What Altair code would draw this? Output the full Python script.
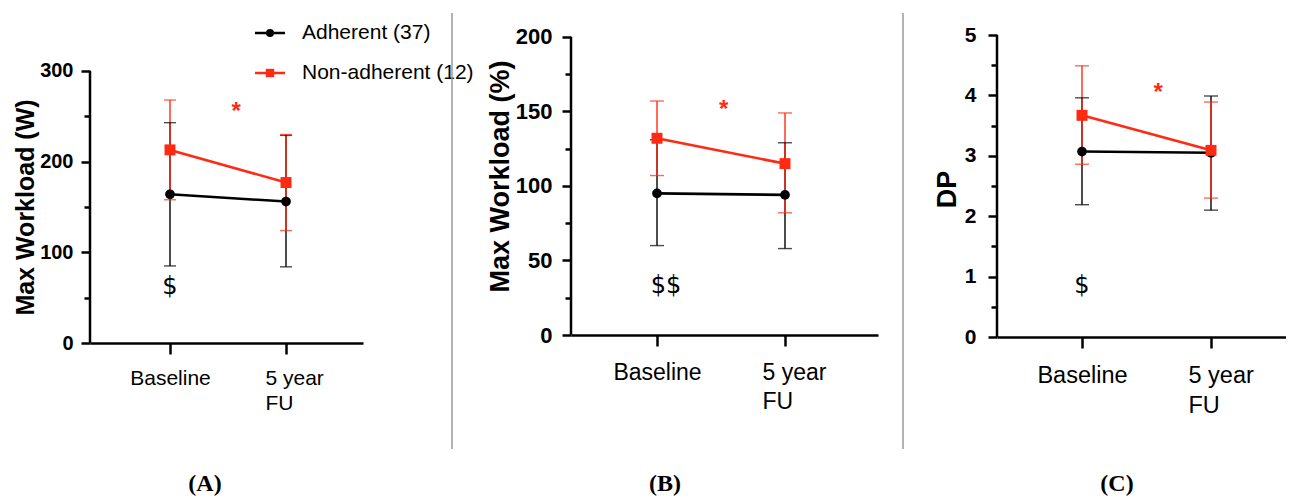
import altair as alt
import pandas as pd

SERIES = ["Adherent (37)", "Non-adherent (12)"]
COLORS = ["#000000", "#ff2a12"]
TIME_VALUES = [0, 1]
TIME_LABELS = ["Baseline", "5 year FU"]

# Panel A: Max Workload (W)
A_adh_mean = [164, 156]
A_adh_lo = [85, 84]
A_adh_hi = [243, 229]
A_non_mean = [213, 177]
A_non_lo = [158, 124]
A_non_hi = [268, 230]
A_ticks = [0, 50, 100, 150, 200, 250, 300]

# Panel B: Max Workload (%)
B_adh_mean = [95, 94]
B_adh_lo = [60, 58]
B_adh_hi = [131, 129]
B_non_mean = [132, 115]
B_non_lo = [107, 82]
B_non_hi = [157, 149]
B_ticks = [0, 25, 50, 75, 100, 125, 150, 175, 200]

# Panel C: DP
C_adh_mean = [3.07, 3.05]
C_adh_lo = [2.19, 2.10]
C_adh_hi = [3.96, 3.99]
C_non_mean = [3.67, 3.09]
C_non_lo = [2.86, 2.30]
C_non_hi = [4.49, 3.89]
C_ticks = [0, 0.5, 1, 1.5, 2, 2.5, 3, 3.5, 4, 4.5, 5]

# annotations (x in time units, y in data units)
A_star = [0.57, 255]
B_star = [0.52, 151]
C_star = [0.59, 4.04]
A_dollar = ["$", 0.0, 62]
B_dollar = ["$$", 0.07, 33]
C_dollar = ["$", 0.0, 0.84]

PANEL_LABELS = ["(A)", "(B)", "(C)"]

RED = COLORS[1]
FONT = "Liberation Sans"


def make_df(am, alo, ahi, nm, nlo, nhi):
    rows = []
    for s, (m, lo, hi) in zip(SERIES, [(am, alo, ahi), (nm, nlo, nhi)]):
        for i, t in enumerate(TIME_VALUES):
            rows.append({"series": s, "t": t, "mean": m[i], "lo": lo[i], "hi": hi[i]})
    return pd.DataFrame(rows)


def panel(df, ticks, major_test, axis_max, ydom, xdom, width, height, ytitle, cfg,
          star, dollar, plabel, show_legend, sep_x=None):
    xscale = alt.Scale(domain=xdom, nice=False, zero=False)
    yscale = alt.Scale(domain=[0, ydom], nice=False, zero=True)
    xaxis = alt.Axis(
        values=TIME_VALUES, title=None, grid=False,
        domainColor="black", domainWidth=2.5,
        tickColor="black", tickWidth=2.5, tickSize=11,
        labelFont=FONT, labelFontSize=cfg["xlab"], labelColor="black",
        labelPadding=cfg["xpad"], labelLineHeight=cfg["xlh"], labelFlush=False, labelOverlap=False,
        labelExpr="datum.value == 0 ? '" + TIME_LABELS[0] + "' : ['5 year', 'FU']",
        labelAlign={"condition": {"test": "datum.value == 1", "value": "left"}, "value": "center"},
        labelOffset={"condition": {"test": "datum.value == 1", "value": cfg["xoff"]}, "value": 0},
    )
    yaxis = alt.Axis(
        values=ticks, title=ytitle, grid=False, domain=False,
        titleFont=FONT, titleFontSize=cfg["ytit"], titleFontWeight="bold", titleColor="black",
        titleX=cfg["tx"], titleY=cfg["ty"], titleAngle=270, titleAlign="center", titleBaseline="middle",
        labelFont=FONT, labelFontSize=cfg["ylab"], labelFontWeight="bold", labelColor="black",
        labelOverlap=False, labelPadding=cfg["ypad"],
        labelExpr="(" + major_test + ") ? format(datum.value, 'd') : ''",
        tickColor="black", tickWidth=2.5,
        tickSize={"condition": {"test": major_test, "value": 9}, "value": 6},
    )
    color = alt.Color("series:N", scale=alt.Scale(domain=SERIES, range=COLORS), legend=None)
    x = alt.X("t:Q", scale=xscale, axis=xaxis)

    base = alt.Chart(df)
    err = base.mark_rule(strokeWidth=1.4).encode(
        x=x, y=alt.Y("lo:Q", scale=yscale, axis=yaxis), y2="hi:Q", color=color)
    cap_lo = base.mark_tick(orient="horizontal", size=cfg["cap"], thickness=1.4).encode(
        x=x, y=alt.Y("lo:Q", scale=yscale, axis=yaxis), color=color)
    cap_hi = base.mark_tick(orient="horizontal", size=cfg["cap"], thickness=1.4).encode(
        x=x, y=alt.Y("hi:Q", scale=yscale, axis=yaxis), color=color)
    line = base.mark_line(strokeWidth=2.6).encode(
        x=x, y=alt.Y("mean:Q", scale=yscale, axis=yaxis), color=color)
    pts_a = base.transform_filter(alt.datum.series == SERIES[0]).mark_point(
        shape="circle", size=95, filled=True, opacity=1).encode(
        x=x, y=alt.Y("mean:Q", scale=yscale, axis=yaxis), color=color)
    pts_n = base.transform_filter(alt.datum.series == SERIES[1]).mark_point(
        shape="square", size=120, filled=True, opacity=1).encode(
        x=x, y=alt.Y("mean:Q", scale=yscale, axis=yaxis), color=color)

    axis_line = alt.Chart(pd.DataFrame({"y0": [0], "y1": [axis_max]})).mark_rule(
        color="black", strokeWidth=2.5).encode(
        x=alt.value(0), y=alt.Y("y0:Q", scale=yscale, axis=yaxis), y2="y1:Q")

    star_df = pd.DataFrame({"t": [star[0]], "y": [star[1]], "txt": ["*"]})
    star_t = alt.Chart(star_df).mark_text(
        color=RED, font=FONT, fontSize=24, fontWeight="bold", baseline="middle").encode(
        x=alt.X("t:Q", scale=xscale, axis=xaxis), y=alt.Y("y:Q", scale=yscale, axis=yaxis), text="txt:N")
    dol_df = pd.DataFrame({"t": [dollar[1]], "y": [dollar[2]], "txt": [dollar[0]]})
    dol_t = alt.Chart(dol_df).mark_text(
        color="black", font="DejaVu Sans", fontSize=24, baseline="middle").encode(
        x=alt.X("t:Q", scale=xscale, axis=xaxis), y=alt.Y("y:Q", scale=yscale, axis=yaxis), text="txt:N")

    lab_df = pd.DataFrame({"txt": [plabel]})
    lab_t = alt.Chart(lab_df).mark_text(
        font="Liberation Serif", fontSize=24, fontWeight="bold", color="black",
        align="center", baseline="middle").encode(
        x=alt.value(cfg["labx"]), y=alt.value(449), text="txt:N")

    layers = [err, cap_lo, cap_hi, line, pts_a, pts_n, axis_line, star_t, dol_t, lab_t]

    if show_legend:
        # key drawn at the top of panel A: line + marker + label per series
        shapes = ["circle", "square"]
        msizes = [64, 70]
        for i, s in enumerate(SERIES):
            ly = -2 + 40 * i
            sdf = pd.DataFrame({"series": [s]})
            kb = alt.Chart(sdf)
            layers.append(kb.mark_rule(strokeWidth=2.5).encode(
                x=alt.value(165), x2=alt.value(195), y=alt.value(ly), color=color))
            layers.append(kb.mark_point(shape=shapes[i], size=msizes[i], filled=True, opacity=1).encode(
                x=alt.value(180), y=alt.value(ly), color=color))
            layers.append(kb.mark_text(font=FONT, fontSize=21, color="black", align="left",
                                       baseline="middle").encode(
                x=alt.value(212), y=alt.value(ly), text="series:N"))
        # invisible anchor that fixes the left edge of the whole figure
        layers.append(alt.Chart(pd.DataFrame({"k": [0]})).mark_rule(opacity=0).encode(
            x=alt.value(-82), y=alt.value(100), y2=alt.value(110)))

    if sep_x is not None:
        sep = alt.Chart(pd.DataFrame({"k": [0]})).mark_rule(color="#9a9a9a", strokeWidth=1.5).encode(
            x=alt.value(sep_x), y=alt.value(-22), y2=alt.value(414))
        layers.append(sep)

    return alt.layer(*layers).properties(width=width, height=height)


dfA = make_df(A_adh_mean, A_adh_lo, A_adh_hi, A_non_mean, A_non_lo, A_non_hi)
dfB = make_df(B_adh_mean, B_adh_lo, B_adh_hi, B_non_mean, B_non_lo, B_non_hi)
dfC = make_df(C_adh_mean, C_adh_lo, C_adh_hi, C_non_mean, C_non_lo, C_non_hi)

cfgA = dict(xlab=21, xpad=13, xlh=25, xoff=-21, ytit=25, tx=-65, ty=172, ylab=20, ypad=8, cap=12, labx=115)
cfgB = dict(xlab=23, xpad=15, xlh=29, xoff=-23, ytit=27, tx=-71, ty=141, ylab=22, ypad=10, cap=14, labx=94)
cfgC = dict(xlab=23.5, xpad=15, xlh=30, xoff=-23, ytit=27, tx=-50, ty=154, ylab=21, ypad=12, cap=14, labx=120)

pA = panel(dfA, A_ticks, "datum.value % 100 == 0", 300, 339.7, [-0.6897, 1.6638], 273, 308,
           "Max Workload (W)", cfgA, A_star, A_dollar, PANEL_LABELS[0], True)
pB = panel(dfB, B_ticks, "datum.value % 50 == 0", 200, 201.3, [-0.6719, 1.7266], 307, 300,
           "Max Workload (%)", cfgB, B_star, B_dollar, PANEL_LABELS[1], False, sep_x=-119)
pC = panel(dfC, C_ticks, "datum.value % 1 == 0", 5, 5, [-0.6589, 1.5814], 289, 302,
           "DP", cfgC, C_star, C_dollar, PANEL_LABELS[2], False, sep_x=-94)

inner = alt.hconcat(pB, pC, spacing=119, bounds="flush")
chart = alt.hconcat(pA, inner, spacing=208, bounds="flush").configure_view(
    stroke=None).properties(padding={"left": 0, "top": 4, "right": 0, "bottom": 0})

chart.save("out.html", embed_options={"renderer": "svg", "actions": False})
